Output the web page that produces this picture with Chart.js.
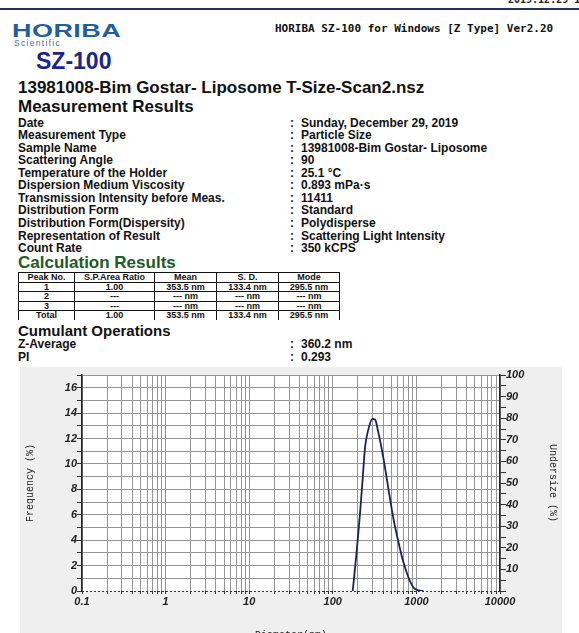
<!DOCTYPE html>
<html>
<head>
<meta charset="utf-8">
<script src="https://cdn.jsdelivr.net/npm/chart.js@4.4.0/dist/chart.umd.min.js"></script>
<style>
  html, body { margin: 0; padding: 0; width: 579px; height: 633px; overflow: hidden; background: #fff; }
  body { position: relative; font-family: "Liberation Sans", Arial, sans-serif; color: #111; }
  .abs { position: absolute; white-space: nowrap; }
  .mono { font-family: "DejaVu Sans Mono", "Liberation Mono", monospace; font-weight: bold; }
  .rule { left: 0; top: 8px; width: 579px; height: 2px; background: #27344f; }
  .logo { left: 12px; top: 22px; font-size: 18px; line-height: 18px; font-weight: bold; color: #1f5f9e; transform: scaleX(1.5); transform-origin: left top; letter-spacing: 0.3px; }
  .sci { left: 14px; top: 38px; font-size: 8.5px; line-height: 10px; letter-spacing: 1.3px; color: #4372a5; }
  .model { left: 36px; top: 50px; font-size: 23px; line-height: 23px; font-weight: bold; color: #1b258c; }
  .h1 { left: 18px; font-size: 17px; line-height: 20px; font-weight: bold; }
  .rows { left: 0; width: 579px; font-size: 12px; line-height: 12.55px; font-weight: bold; }
  .row { position: relative; height: 12.55px; }
  .row span { position: absolute; top: 0; }
  .row .k { left: 18px; }
  .row .c { left: 290px; }
  .row .v { left: 301px; }
  table.calc { position: absolute; left: 18px; top: 272px; border-collapse: collapse; font-size: 9px; font-weight: bold; }
  table.calc td { border: 1px solid #111; height: 8.6px; line-height: 8.6px; padding: 0; text-align: center; }
  table.calc tr.last td { border-bottom: none; }
  #panel { position: absolute; left: 20px; top: 367px; width: 542px; height: 280px; background: #efefef; }
</style>
</head>
<body>
<div class="abs mono" style="left:508px; top:-6px; font-size:10px; color:#222;">2019.12.29 19:27</div>
<div class="abs rule"></div>
<div class="abs logo">HORIBA</div>
<div class="abs sci">Scientific</div>
<div class="abs mono" style="left:275px; top:22px; font-size:11px; line-height:13px;">HORIBA SZ-100 for Windows [Z Type] Ver2.20</div>
<div class="abs model">SZ-100</div>
<div class="abs h1" style="top:78px;">13981008-Bim Gostar- Liposome T-Size-Scan2.nsz</div>
<div class="abs h1" style="top:97px;">Measurement Results</div>
<div class="abs rows" id="measRows" style="top:116.6px;"></div>
<div class="abs h1" style="top:253px; color:#1e5b26;">Calculation Results</div>
<table class="calc" id="calcTable"></table>
<div class="abs h1" style="top:322px; font-size:15px; line-height:18px;">Cumulant Operations</div>
<div class="abs rows" id="cumRows" style="top:338.2px;"></div>
<div id="panel"><canvas id="psd"></canvas></div>

<script>
const diameterNm = [173, 193, 211, 228, 243, 266, 297, 320, 350, 402, 461, 529, 607, 697, 800, 918, 1054, 1210];
const frequencyPct = [0, 3.1, 6.0, 8.9, 11.3, 12.7, 13.55, 13.5, 12.5, 10.5, 8.1, 5.75, 3.9, 2.3, 1.1, 0.3, 0.05, 0];

// axis labels
const xTickLabels = ["0.1", "1", "10", "100", "1000", "10000"];
const freqTickLabels = [0, 2, 4, 6, 8, 10, 12, 14, 16];
const undersizeTickLabels = [10, 20, 30, 40, 50, 60, 70, 80, 90, 100];

// report text
const measLabels = ["Date", "Measurement Type", "Sample Name", "Scattering Angle", "Temperature of the Holder",
  "Dispersion Medium Viscosity", "Transmission Intensity before Meas.", "Distribution Form",
  "Distribution Form(Dispersity)", "Representation of Result", "Count Rate"];
const measValues = ["Sunday, December 29, 2019", "Particle Size", "13981008-Bim Gostar- Liposome", "90", "25.1 \u00b0C",
  "0.893 mPa\u00b7s", "11411", "Standard", "Polydisperse", "Scattering Light Intensity", "350 kCPS"];
const calcHeader = ["Peak No.", "S.P.Area Ratio", "Mean", "S. D.", "Mode"];
const calcRows = [
  ["1", "1.00", "353.5 nm", "133.4 nm", "295.5 nm"],
  ["2", "---", "--- nm", "--- nm", "--- nm"],
  ["3", "---", "--- nm", "--- nm", "--- nm"],
  ["Total", "1.00", "353.5 nm", "133.4 nm", "295.5 nm"],
];
const calcColWidths = [55, 79, 61, 61, 60];
const cumLabels = ["Z-Average", "PI"];
const cumValues = ["360.2 nm", "0.293"];

function fillRows(id, labels, values) {
  const box = document.getElementById(id);
  labels.forEach(function (k, i) {
    const row = document.createElement("div");
    row.className = "row";
    row.innerHTML = '<span class="k"></span><span class="c">:</span><span class="v"></span>';
    row.querySelector(".k").textContent = k;
    row.querySelector(".v").textContent = values[i];
    box.appendChild(row);
  });
}
fillRows("measRows", measLabels, measValues);
fillRows("cumRows", cumLabels, cumValues);

const table = document.getElementById("calcTable");
[calcHeader].concat(calcRows).forEach(function (cells, r) {
  const tr = document.createElement("tr");
  if (r === calcRows.length) tr.className = "last";
  cells.forEach(function (txt, c) {
    const td = document.createElement("td");
    td.textContent = txt;
    td.style.width = calcColWidths[c] + "px";
    tr.appendChild(td);
  });
  table.appendChild(tr);
});

// log grid ticks 1..9 per decade
const xTickValues = [];
for (let e = -1; e <= 3; e++) {
  for (let m = 1; m <= 9; m++) {
    xTickValues.push(Number((m * Math.pow(10, e)).toPrecision(3)));
  }
}
xTickValues.push(10000);

const tickFont = { family: "'Liberation Sans', Arial, sans-serif", size: 11, style: "italic", weight: "bold" };
const titleFont = { family: "'Liberation Mono', 'DejaVu Sans Mono', monospace", size: 10 };

const plotBg = {
  id: "plotBg",
  beforeDraw(chart) {
    const { ctx, chartArea } = chart;
    ctx.save();
    ctx.fillStyle = "#ffffff";
    ctx.fillRect(chartArea.left, chartArea.top, chartArea.right - chartArea.left, chartArea.bottom - chartArea.top);
    ctx.restore();
  },
  // dotted baseline like the instrument printout
  afterDraw(chart) {
    const { ctx, chartArea } = chart;
    ctx.save();
    ctx.strokeStyle = "#333";
    ctx.lineWidth = 1;
    ctx.setLineDash([2, 2]);
    ctx.beginPath();
    ctx.moveTo(chartArea.left, chartArea.bottom + 0.5);
    ctx.lineTo(chartArea.right, chartArea.bottom + 0.5);
    ctx.stroke();
    ctx.restore();
  },
};

function drawChart() {
  const ctx = document.getElementById("psd");
  return new Chart(ctx, {
    type: "line",
    data: {
      datasets: [
        {
          label: "Frequency",
          data: diameterNm.map(function (d, i) { return { x: d, y: frequencyPct[i] }; }),
          borderColor: "#1b1f5c",
          borderWidth: 1.8,
          pointRadius: 0,
          cubicInterpolationMode: "monotone",
          yAxisID: "y",
        },
      ],
    },
    options: {
      responsive: true,
      maintainAspectRatio: false,
      animation: false,
      devicePixelRatio: 1,
      layout: { padding: { top: 8, left: 0, right: 0, bottom: 0 } },
      plugins: { legend: { display: false }, tooltip: { enabled: false } },
      scales: {
        x: {
          type: "logarithmic",
          min: 0.1,
          max: 10000,
          afterBuildTicks: function (scale) {
            scale.ticks = xTickValues.map(function (v) { return { value: v }; });
          },
          afterFit: function (scale) { scale.height = 56; },
          ticks: {
            autoSkip: false,
            maxRotation: 0,
            padding: 1,
            color: "#222",
            font: tickFont,
            callback: function (value) {
              const lg = Math.log10(value);
              if (Math.abs(lg - Math.round(lg)) > 1e-6) return "";
              return xTickLabels[Math.round(lg) + 1];
            },
          },
          grid: { color: "#959595", lineWidth: 1, tickLength: 3, tickColor: "#333" },
          border: { display: false },
          title: { display: true, text: "Diameter(nm)", color: "#222", font: titleFont, padding: { top: 0, bottom: 6 } },
        },
        y: {
          position: "left",
          min: 0,
          max: 17,
          afterFit: function (scale) { scale.width = 62; },
          ticks: {
            stepSize: 1,
            autoSkip: false,
            padding: 0,
            color: "#222",
            font: tickFont,
            callback: function (value) {
              return freqTickLabels.indexOf(value) >= 0 ? String(value) : "";
            },
          },
          grid: {
            color: function (c) { return c.tick && c.tick.value === 0 ? "rgba(0,0,0,0)" : "#959595"; },
            lineWidth: 1,
            tickLength: 5,
            tickColor: "#333",
          },
          border: { display: true, color: "#222", width: 1.5 },
          title: { display: true, text: "Frequency (%)", color: "#222", font: titleFont, padding: { top: 4, bottom: 0 } },
        },
        y1: {
          position: "right",
          min: 0,
          max: 100,
          afterFit: function (scale) { scale.width = 62; },
          ticks: {
            stepSize: 5,
            autoSkip: false,
            padding: 0,
            color: "#222",
            font: tickFont,
            callback: function (value) {
              return undersizeTickLabels.indexOf(value) >= 0 ? String(value) : "";
            },
          },
          grid: { drawOnChartArea: false, tickLength: 6, tickColor: "#333" },
          border: { display: true, color: "#222", width: 1.5 },
          title: { display: true, text: "Undersize (%)", color: "#222", font: titleFont, padding: { top: 3, bottom: 0 } },
        },
      },
    },
    plugins: [plotBg],
  });
}

drawChart();
</script>
</body>
</html>
